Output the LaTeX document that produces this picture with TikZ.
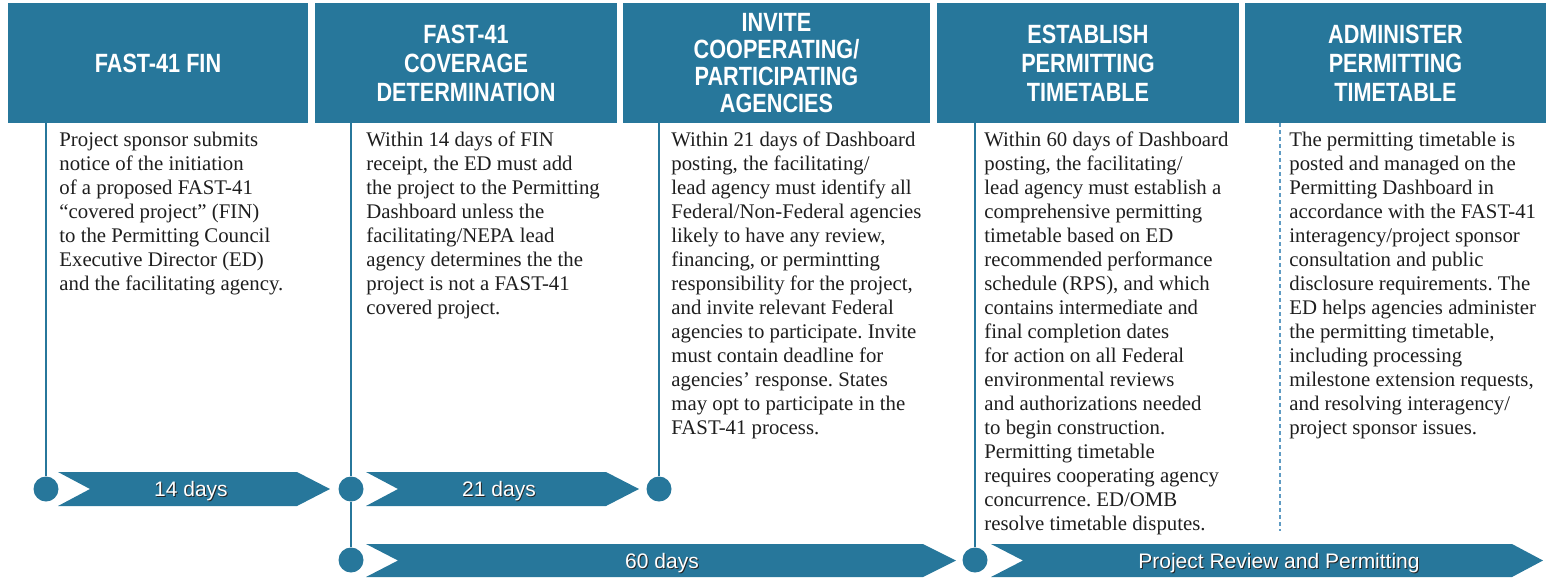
\documentclass[tikz,border=0pt]{standalone}
\usepackage{fontspec}
\setmainfont{Liberation Serif}
\newfontfamily\headfont{Liberation Sans}[FakeStretch=0.82,BoldFeatures={FakeStretch=0.82}]
\newfontfamily\tagfont{Liberation Sans}
\definecolor{fastblue}{RGB}{39,119,155}
\definecolor{dashblue}{RGB}{95,155,195}
\definecolor{bodyink}{RGB}{30,30,30}
\frenchspacing
% white label with a thin dark drop shadow
\newcommand\shadowed[1]{\makebox[0pt][l]{\kern0.5pt\raisebox{-0.5pt}{\color{black!85}#1}}#1}

\begin{document}
\begin{tikzpicture}[x=0.5pt,y=-0.5pt,
  header/.style={rectangle, fill=fastblue, inner sep=0, minimum width=151pt, minimum height=60pt,
    text=white, align=center, font=\headfont\bfseries\fontsize{13.2}{14.5}\selectfont},
  bodytext/.style={anchor=north west, inner sep=0, align=left, text=bodyink,
    font=\fontsize{10.4}{12}\selectfont},
  stem/.style={draw=fastblue, line width=0.75pt},
  dashstem/.style={draw=dashblue, line width=0.9pt, dash pattern=on 2pt off 1.5pt},
  dot/.style={circle, fill=fastblue, minimum size=12.5pt, inner sep=0},
  chev/.style={fill=fastblue},
  tag/.style={text=white, inner sep=0, font=\tagfont\fontsize{10.5}{12}\selectfont}
]
\useasboundingbox (0,0) rectangle (1554,579);

% stage headers
\node[header, minimum width=150pt] (h1) at (158,63) {FAST-41 FIN};
\node[header] (h2) at (466,63) {FAST-41\\COVERAGE\\DETERMINATION};
\node[header, minimum width=153.5pt, font=\headfont\bfseries\fontsize{13.2}{13.4}\selectfont] (h3) at (776.5,63) {INVITE\\COOPERATING/\\PARTICIPATING\\AGENCIES};
\node[header] (h4) at (1088,63) {ESTABLISH\\PERMITTING\\TIMETABLE};
\node[header, minimum width=150.5pt] (h5) at (1395.5,63) {ADMINISTER\\PERMITTING\\TIMETABLE};

% milestone dots
\node[dot] (d1) at (46,489) {};
\node[dot] (d2) at (351,489) {};
\node[dot] (d3) at (659,489) {};
\node[dot] (d4) at (351,560) {};
\node[dot] (d5) at (975,560) {};
\coordinate (e5) at (1280,531);

% stems from the headers
\draw[stem] (d1 |- h1.south) -- (d1.north);
\draw[stem] (d2 |- h2.south) -- (d2.north);
\draw[stem] (d2.south) -- (d4.north);
\draw[stem] (d3 |- h3.south) -- (d3.north);
\draw[stem] (d5 |- h4.south) -- (d5.north);
\draw[dashstem] (e5 |- h5.south) -- (e5);

% duration chevrons
\path[chev] (58,472) -- (297,472) -- (330,489) -- (297,506) -- (58,506) -- (90,489) -- cycle;
\path[chev] (366,472) -- (606,472) -- (639,489) -- (606,506) -- (366,506) -- (398,489) -- cycle;
\path[chev] (366,544) -- (923,544) -- (956,560.5) -- (923,577) -- (366,577) -- (398,560.5) -- cycle;
\path[chev] (991,544) -- (1512,544) -- (1543,560.5) -- (1512,577) -- (991,577) -- (1023,560.5) -- cycle;
\node[tag] (t1) at (191,492) {\shadowed{14 days}};
\node[tag] (t2) at (499,492) {\shadowed{21 days}};
\node[tag] (t3) at (662,564) {\shadowed{60 days}};
\node[tag] (t4) at (1279,564) {\shadowed{Project Review and Permitting}};

% stage descriptions
\node[bodytext] (b1) at (59,129.2) {\strut Project sponsor submits\\
notice of the initiation\\
of a proposed FAST-41\\
“covered project” (FIN)\\
to the Permitting Council\\
Executive Director (ED)\\
and the facilitating agency.};

\node[bodytext] (b2) at (366,129.2) {\strut Within 14 days of FIN\\
receipt, the ED must add\\
the project to the Permitting\\
Dashboard unless the\\
facilitating/NEPA lead\\
agency determines the the\\
project is not a FAST-41\\
covered project.};

\node[bodytext] (b3) at (671,129.2) {\strut Within 21 days of Dashboard\\
posting, the facilitating/\\
lead agency must identify all\\
Federal/Non-Federal agencies\\
likely to have any review,\\
financing, or permintting\\
responsibility for the project,\\
and invite relevant Federal\\
agencies to participate. Invite\\
must contain deadline for\\
agencies’ response. States\\
may opt to participate in the\\
FAST-41 process.};

\node[bodytext] (b4) at (984,129.2) {\strut Within 60 days of Dashboard\\
posting, the facilitating/\\
lead agency must establish a\\
comprehensive permitting\\
timetable based on ED\\
recommended performance\\
schedule (RPS), and which\\
contains intermediate and\\
final completion dates\\
for action on all Federal\\
environmental reviews\\
and authorizations needed\\
to begin construction.\\
Permitting timetable\\
requires cooperating agency\\
concurrence. ED/OMB\\
resolve timetable disputes.};

\node[bodytext] (b5) at (1289,129.2) {\strut The permitting timetable is\\
posted and managed on the\\
Permitting Dashboard in\\
accordance with the FAST-41\\
interagency/project sponsor\\
consultation and public\\
disclosure requirements. The\\
ED helps agencies administer\\
the permitting timetable,\\
including processing\\
milestone extension requests,\\
and resolving interagency/\\
project sponsor issues.};
\end{tikzpicture}
\end{document}
